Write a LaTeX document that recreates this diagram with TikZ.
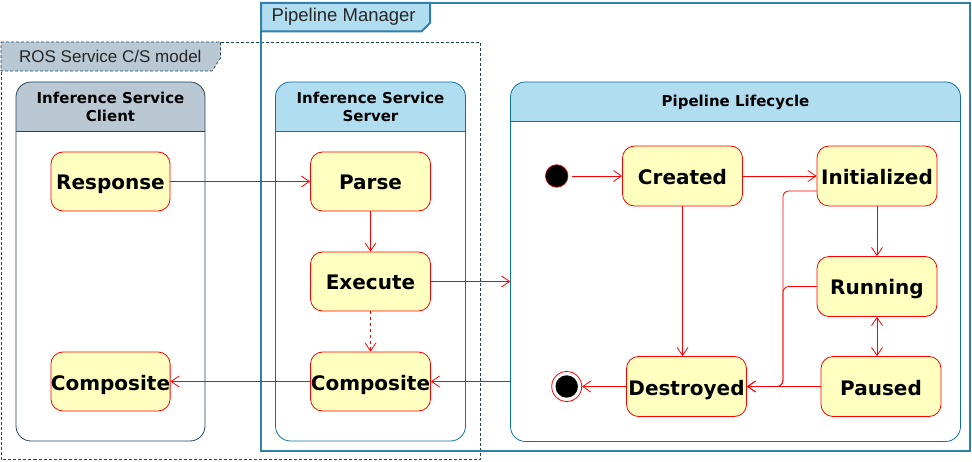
\documentclass[tikz,border=0pt]{standalone}
\usepackage{fontspec}
\setmainfont{Liberation Sans}
\newfontfamily\dvfont{DejaVu Sans}
\usetikzlibrary{arrows.meta,calc}
\definecolor{redline}{HTML}{FF0000}
\definecolor{statefill}{HTML}{FFFFC0}
\definecolor{bluefill}{HTML}{B1DDF0}
\definecolor{blueline}{HTML}{10739E}
\definecolor{greyfill}{HTML}{BAC8D3}
\definecolor{greyline}{HTML}{23445D}
\definecolor{frameline}{HTML}{2F80AE}
\tikzset{
  statebox/.style={draw=redline, fill=statefill, rounded corners=12pt, minimum width=120pt,
    minimum height=60pt, inner sep=0pt, line width=0.8pt, text height=17pt, text depth=0pt,
    font={\dvfont\bfseries\fontsize{20}{23}\selectfont}},
  flow/.style={draw=redline, line width=0.8pt, -{Straight Barb[length=8pt,width=11pt]}},
  plainflow/.style={draw=redline, line width=0.8pt},
  lanebox/.style={draw=none, inner sep=0pt},
  lanetitle/.style={align=center, font={\dvfont\bfseries\fontsize{15}{18}\selectfont}},
  tabtext/.style={anchor=west, inner sep=0pt, text=black!85},
  startdot/.style={circle, fill=black, draw=redline, line width=0.6pt, minimum size=22.6pt, inner sep=0pt},
  enddot/.style={circle, fill=white, draw=redline, line width=0.8pt, minimum size=30pt, inner sep=0pt,
    path picture={\fill[black] (path picture bounding box.center) circle (11.2pt);}},
}
\begin{document}
\begin{tikzpicture}[x=1pt,y=-1pt]
\useasboundingbox (0,0) rectangle (972,462);

% ROS Service C/S model frame
\draw[greyline, line width=0.7pt, dash pattern=on 3pt off 2pt] (1,42) rectangle (480,459.5);
\draw[greyline, fill=greyfill, line width=0.7pt, dash pattern=on 3pt off 2pt]
  (1,42) -- (220.5,42) -- (220.5,58) -- (212,71) -- (1,71) -- cycle;
\node[tabtext, font={\fontsize{17}{20}\selectfont}] (rostab) at (19,56.5) {ROS Service C/S model};

% Pipeline Manager frame
\draw[frameline, line width=2pt] (261,3) rectangle (970,451);
\draw[frameline, fill=bluefill, line width=2pt]
  (261,3) -- (430,3) -- (430,23) -- (421.5,31.5) -- (261,31.5) -- cycle;
\node[tabtext, font={\fontsize{18.5}{21}\selectfont}] (pmtab) at (271.5,16.5) {Pipeline Manager};

% Inference Service Client lane
\node[lanebox, minimum width=189pt, minimum height=359pt] (client) at (110.5,261.5) {};
\fill[greyfill] (16,131) [rounded corners=15pt] -- (16,82) -- (205,82) [sharp corners] -- (205,131) -- cycle;
\draw[greyline, line width=0.8pt, rounded corners=15pt] (16,82) rectangle (205,441);
\draw[greyline, line width=0.8pt] (16,131) -- (205,131);
\node[lanetitle] (clienttitle) at (110.5,107) {Inference Service\\Client};

% Inference Service Server lane
\node[lanebox, minimum width=190pt, minimum height=359pt] (server) at (370.5,261.5) {};
\fill[bluefill] (275.5,131) [rounded corners=15pt] -- (275.5,82) -- (465.5,82) [sharp corners] -- (465.5,131) -- cycle;
\draw[blueline, line width=0.8pt, rounded corners=15pt] (275.5,82) rectangle (465.5,441);
\draw[blueline, line width=0.8pt] (275.5,131) -- (465.5,131);
\node[lanetitle] (servertitle) at (370.5,107) {Inference Service\\Server};

% Pipeline Lifecycle lane
\node[lanebox, minimum width=450pt, minimum height=359.5pt] (lc) at (735.5,261.75) {};
\fill[bluefill] (510.5,121) [rounded corners=15pt] -- (510.5,82) -- (960.5,82) [sharp corners] -- (960.5,121) -- cycle;
\draw[blueline, line width=0.8pt, rounded corners=15pt] (510.5,82) rectangle (960.5,441.5);
\draw[blueline, line width=0.8pt] (510.5,121) -- (960.5,121);
\node[lanetitle] (lctitle) at (735.5,102) {Pipeline Lifecycle};

% States
\node[statebox, minimum width=119pt, minimum height=59pt] (response) at (110.5,181.5) {Response};
\node[statebox, minimum width=119pt, minimum height=59pt] (compc) at (110.5,381.5) {Composite};
\node[statebox, minimum height=59pt] (parse) at (370.5,181.5) {Parse};
\node[statebox, minimum height=59pt] (execute) at (370.5,281.5) {Execute};
\node[statebox, minimum height=59pt] (comps) at (370.5,381.5) {Composite};

\node[statebox] (created) at (682.5,176) {Created};
\node[statebox] (init) at (877,176) {Initialized};
\node[statebox] (running) at (877,286.5) {Running};
\node[statebox] (paused) at (881,386.5) {Paused};
\node[statebox] (destroyed) at (686.5,386.5) {Destroyed};
\node[startdot] (start) at (556.7,176) {};
\node[enddot] (final) at (566.7,386.5) {};

% Connectors
\draw[flow] (response.east) -- (parse.west);
\draw[flow] (parse.south) -- (execute.north);
\draw[flow, dash pattern=on 3pt off 3pt] (execute.south) -- (comps.north);
\draw[flow] (execute.east) -- (execute.east -| lc.west);
\draw[flow] (comps.east -| lc.west) -- (comps.east);
\draw[flow] (comps.west) -- (compc.east);

\draw[flow, shorten <=4pt] (start) -- (created.west);
\draw[flow] (created.east) -- (init.west |- created.east);
\draw[flow] (created.south) -- (created.south |- destroyed.north);
\draw[flow] (init.south) -- (running.north);
\draw[flow, {Straight Barb[length=8pt,width=11pt]}-{Straight Barb[length=8pt,width=11pt]}] (running.south) -- (running.south |- paused.north);
\draw[flow] (paused.west) -- (destroyed.east);
\draw[plainflow, rounded corners=6pt] (running.west) -| ([xshift=36pt]destroyed.east) -- (destroyed.east);
\draw[flow, rounded corners=6pt] ([yshift=-15pt]init.west) -| ([xshift=36pt]destroyed.east) -- (destroyed.east);
\draw[flow] (destroyed.west) -- (final);
\end{tikzpicture}
\end{document}
